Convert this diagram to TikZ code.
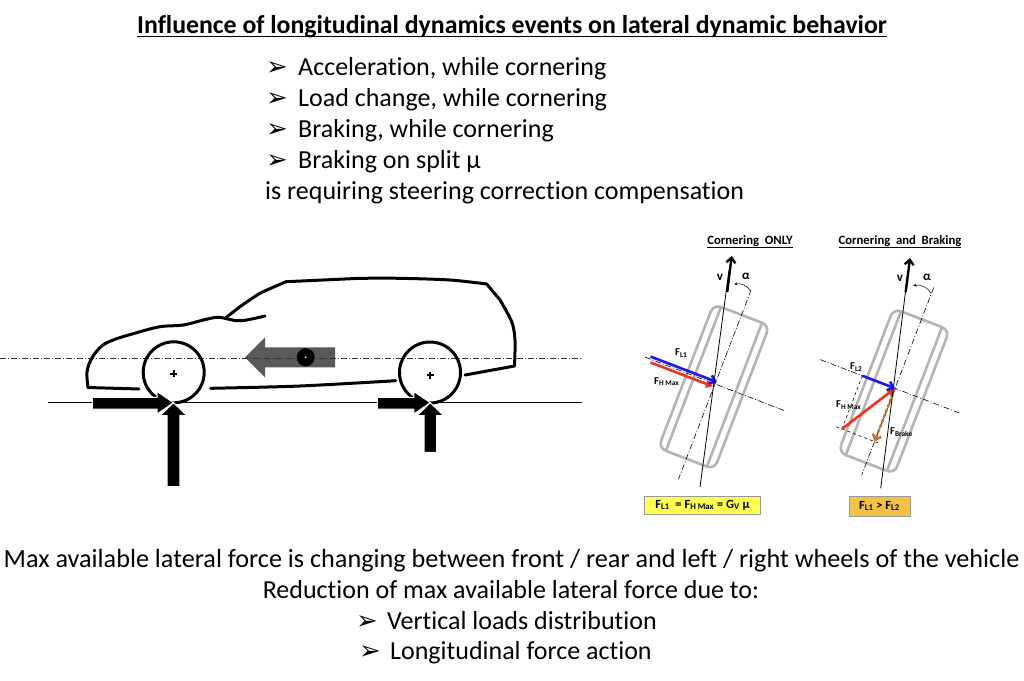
\documentclass[tikz,border=0pt]{standalone}
\usepackage{fontspec}
\setmainfont{Carlito}[Ligatures=NoCommon]
\newfontfamily\dejavu{DejaVu Sans}
\usetikzlibrary{arrows.meta}
\newcommand\lsub[1]{\textsubscript{#1}}
\definecolor{arrgray}{HTML}{595959}
\definecolor{tiregray}{HTML}{B4B4B4}
\definecolor{fblue}{HTML}{1A1AF0}
\definecolor{fred}{HTML}{F0321E}
\definecolor{fbrown}{HTML}{C0742C}
\definecolor{ybox}{HTML}{FFFF50}
\definecolor{obox}{HTML}{F4C242}
\begin{document}
\begin{tikzpicture}[x=1pt,y=-1pt,
  bigtxt/.style={font=\fontsize{26}{30}\selectfont, inner sep=0pt, anchor=base west},
  bul/.style={font=\dejavu\fontsize{26}{28}\selectfont, inner sep=0pt, anchor=base west},
  carline/.style={line width=3pt, line cap=round, line join=round},
  blockarrow/.style={fill=black, draw=white, line width=1pt},
  tire/.style={draw=tiregray, line width=2.6pt},
  axisline/.style={dash pattern=on 6pt off 2pt on 1pt off 2pt, line width=0.6pt},
  lbl/.style={font=\bfseries\fontsize{10.5}{11}\selectfont, inner sep=0pt},
  head/.style={font=\bfseries\fontsize{12.7}{14}\selectfont, inner sep=0pt, anchor=base},
  fblue/.style={draw=fblue, line width=2.6pt, -{Straight Barb[length=5pt,width=9pt]}},
  fred/.style={draw=fred, line width=2.6pt, -{Triangle[length=7pt,width=8pt]}},
  vthin/.style={line width=0.8pt},
  vthick/.style={line width=2.4pt, -{Straight Barb[length=5pt,width=9pt]}}
]
\useasboundingbox (0,0) rectangle (1024,680);

% ---------- texts ----------
\node[font=\bfseries\fontsize{25.8}{30}\selectfont, inner sep=0pt, anchor=base] (title) at (512,33.5)
  {Influence of longitudinal dynamics events on lateral dynamic behavior};
\draw[line width=1.3pt] ([yshift=-3pt]title.base west) -- ([yshift=-3pt]title.base east);

\node[bul] (b1) at (266,75.5) {➢};
\node[bigtxt] (t1) at (298,75.5) {Acceleration, while cornering};
\node[bul] (b2) at (266,106.5) {➢};
\node[bigtxt] (t2) at (298,106.5) {Load change, while cornering};
\node[bul] (b3) at (266,137.5) {➢};
\node[bigtxt] (t3) at (298,137.5) {Braking, while cornering};
\node[bul] (b4) at (266,168.5) {➢};
\node[bigtxt] (t4) at (298,168.5) {Braking on split μ};
\node[bigtxt] (t5) at (265,199) {is requiring steering correction compensation};

\node[bigtxt, anchor=base, font=\fontsize{26.2}{30}\selectfont] (m1) at (511.5,567) {Max available lateral force is changing between front / rear and left / right wheels of the vehicle};
\node[bigtxt, anchor=base] (m2) at (511,598) {Reduction of max available lateral force due to:};
\node[bul] (b5) at (356,629) {➢};
\node[bigtxt] (m3) at (387,629) {Vertical loads distribution};
\node[bul] (b6) at (359,659) {➢};
\node[bigtxt] (m4) at (390,659) {Longitudinal force action};

% ---------- car ----------
\draw[line width=0.8pt] (48,402.7) -- (581.7,402.7);
\fill[arrgray] (245,357.3) -- (265,337.3) -- (265,347.3) -- (335,347.3) -- (335,367.3) -- (265,367.3) -- (265,377.3) -- cycle;
\draw[axisline, black!80] (0,358.3) -- (581.7,358.3);
\fill (305.7,357.3) circle (9);
\fill[white] (305.7,357.3) circle (0.9);

\draw[carline] (139,389) -- plot[smooth, tension=0.55] coordinates {(88,387.5) (87,372) (91.7,358.3) (101.7,346) (115,339.3) (136.7,332.7) (160,326.7) (183.3,325) (203.3,320) (216.7,317.3) (225,318.3)}
  -- plot[smooth, tension=0.4] coordinates {(240,306.7) (260,293.3) (286,281.7)}
  -- plot[smooth, tension=0.5] coordinates {(360,278.3) (400,278.3) (450,280) (486.7,284)}
  -- plot[smooth, tension=0.5] coordinates {(500,300) (511.7,321.7) (515,340) (514.5,366)}
  -- (465,375);
\draw[carline] plot[smooth, tension=0.6] coordinates {(225,318.3) (236.7,320.7) (246.7,320) (265,316)};
\draw[carline] plot[smooth, tension=0.5] coordinates {(210.7,388.3) (300,386) (395.7,380.7)};

\node[circle, draw, line width=3pt, minimum size=61pt, inner sep=0pt] (fw) at (173.7,372.3) {};
\node[circle, draw, line width=3pt, minimum size=61pt, inner sep=0pt] (rw) at (430,372.5) {};
\draw[line width=1.8pt] ([xshift=-3.5pt,yshift=-1.5pt]fw.center) -- ([xshift=3.5pt,yshift=-1.5pt]fw.center)
  ([yshift=2pt]fw.center) -- ([yshift=-5pt]fw.center);
\draw[line width=1.8pt] ([xshift=-3.5pt,yshift=-2.5pt]rw.center) -- ([xshift=3.5pt,yshift=-2.5pt]rw.center)
  ([yshift=1pt]rw.center) -- ([yshift=-6pt]rw.center);

\coordinate (fc) at (173.5,402.7);
\coordinate (rc) at (430.3,402.7);
\begin{scope}[shift={(fc)}]
  \filldraw[blockarrow] (-81.2,-5.3) -- (-16.5,-5.3) -- (-16.5,-11.2) -- (0,0) -- (-16.5,11.3) -- (-16.5,6.3) -- (-81.2,6.3) -- cycle;
  \filldraw[blockarrow] (-6.4,84) -- (-6.4,13) -- (-13.5,13) -- (0,0) -- (13.5,13) -- (6.4,13) -- (6.4,84) -- cycle;
\end{scope}
\begin{scope}[shift={(rc)}]
  \filldraw[blockarrow] (-53,-5.3) -- (-16.5,-5.3) -- (-16.5,-11.2) -- (0,0) -- (-16.5,11.3) -- (-16.5,6.3) -- (-53,6.3) -- cycle;
  \filldraw[blockarrow] (-6.2,49.6) -- (-6.2,13) -- (-13.3,13) -- (0,0) -- (13.3,13) -- (6.2,13) -- (6.2,49.6) -- cycle;
\end{scope}

% ---------- tire 1: cornering only ----------
\node[head] (h1) at (750,244) {\underline{Cornering\ \ ONLY}};
\coordinate (p1) at (715,384);
\begin{scope}[shift={(p1)}, rotate=-21]
  \draw[tire, rounded corners=8pt] (-30,-74) rectangle (30,80);
  \draw[tire] (-22,-74) -- (-22,80) (22,-74) -- (22,80);
  \draw[axisline] (0,-101) -- (0,102);
  \draw[axisline] (-75,0) -- (74,0);
  \draw[fred] (-68,3) -- (-1.2,3);
  \draw[fblue] (-70,-2.5) -- (1,-2.5);
\end{scope}
\draw[vthin] (700,487) -- (729,270);
\draw[vthick] (727.2,292) -- (731.7,256);
\draw[-{Stealth[length=3pt,width=3pt]}, line width=0.5pt] (750.5,291) to[bend right=35] (734.3,284.3);
\node[font=\bfseries\fontsize{13}{13}\selectfont, inner sep=0pt] (v1) at (720,277) {v};
\node[font=\bfseries\fontsize{13}{13}\selectfont, inner sep=0pt] (a1) at (746,276) {α};
\node[lbl, anchor=west] (fl1) at (675,353) {F\lsub{L1}};
\node[lbl, anchor=west] (fh1) at (654,381.5) {F\lsub{H Max}};
\node[draw=gray!80, fill=ybox, minimum width=116pt, minimum height=18pt, inner sep=0pt, font=\bfseries\fontsize{12.5}{13}\selectfont] (box1) at (702.5,505)
  {F\lsub{L1}\ \ = F\lsub{H Max} = G\lsub{V} μ};

% ---------- tire 2: cornering and braking ----------
\node[head] (h2) at (900,244) {\underline{Cornering\ \ and\ \ Braking}};
\coordinate (p2) at (895,388.3);
\begin{scope}[shift={(p2)}, rotate=-21]
  \draw[tire, rounded corners=8pt] (-30,-74) rectangle (30,80);
  \draw[tire] (-22,-74) -- (-22,80) (22,-74) -- (22,80);
  \draw[axisline] (0,-108) -- (0,93);
  \draw[axisline] (-80,0) -- (71,0);
  \draw[dashed, line width=0.6pt] (-35,0) -- (-35,57) (-41,57) -- (6,57);
  \draw[fbrown, line width=2.4pt, dash pattern=on 4pt off 1.5pt, -{Straight Barb[length=5pt,width=9pt]}] (0,0) -- (0,57);
  \draw[fred, -{Triangle[length=8pt,width=9pt]}] (-35,57) -- (0,0);
  \draw[fblue] (-35,0) -- (0,0);
\end{scope}
\draw[vthin] (880.7,488.3) -- (908,272);
\draw[vthick] (905.7,292) -- (910,258);
\draw[-{Stealth[length=3pt,width=3pt]}, line width=0.5pt] (931,293.3) to[bend right=35] (913.3,285.7);
\node[font=\bfseries\fontsize{13}{13}\selectfont, inner sep=0pt] (v2) at (900,278) {v};
\node[font=\bfseries\fontsize{13}{13}\selectfont, inner sep=0pt] (a2) at (927,277) {α};
\node[lbl, anchor=west] (fl2) at (850,367) {F\lsub{L2}};
\node[lbl, anchor=west] (fh2) at (836,405) {F\lsub{H Max}};
\node[lbl, anchor=west] (fb2) at (890,432) {F\lsub{Brake}};
\node[draw=gray!80, fill=obox, minimum width=61pt, minimum height=20pt, inner sep=0pt, font=\bfseries\fontsize{12.5}{13}\selectfont] (box2) at (879.5,506)
  {F\lsub{L1} > F\lsub{L2}};
\end{tikzpicture}
\end{document}
